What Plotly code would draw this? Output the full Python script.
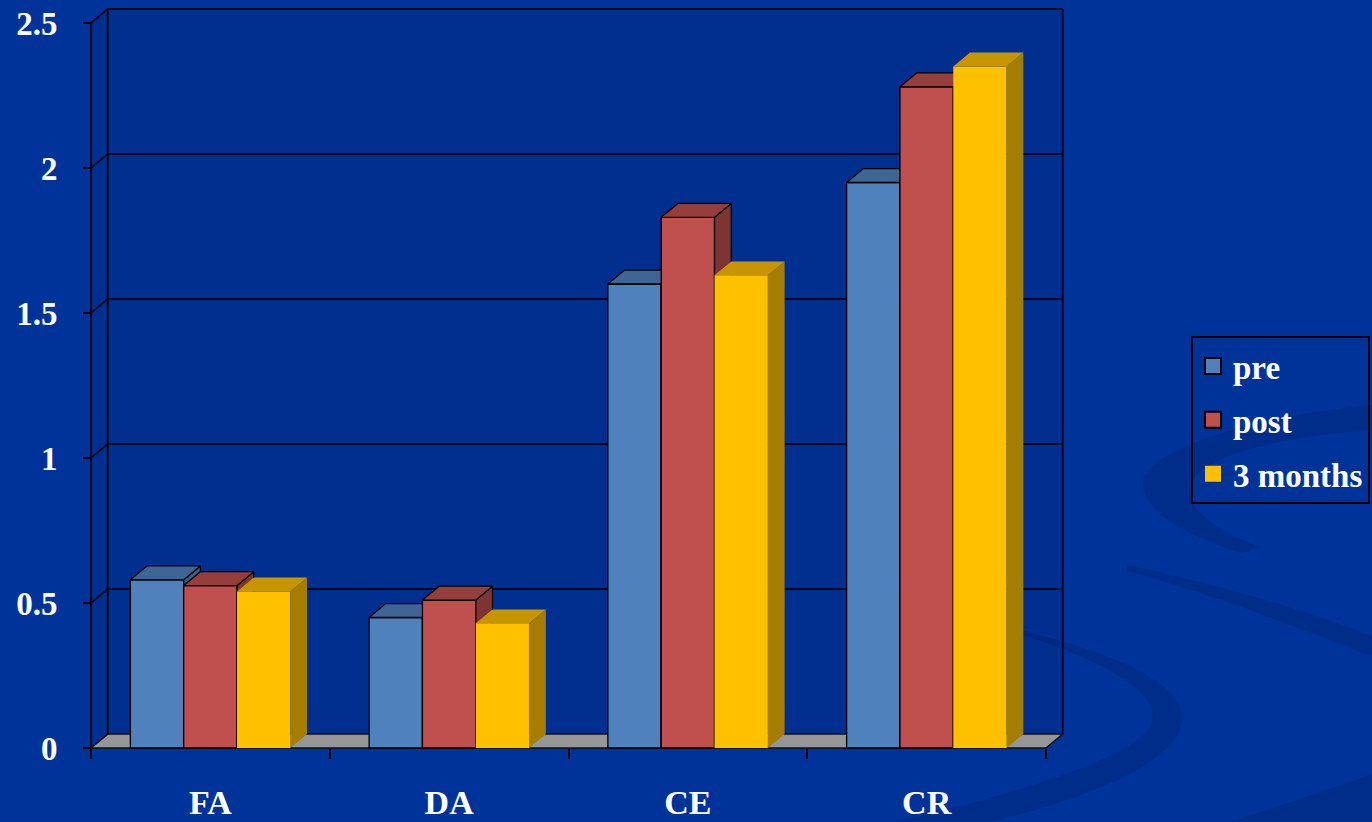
import plotly.graph_objects as go

# ---- data -------------------------------------------------------------
categories = ["FA", "DA", "CE", "CR"]
series_names = ["pre", "post", "3 months"]
pre = [0.58, 0.45, 1.60, 1.95]
post = [0.56, 0.51, 1.83, 2.28]
months3 = [0.54, 0.43, 1.63, 2.35]
y_ticks = [0, 0.5, 1, 1.5, 2, 2.5]

series_values = [pre, post, months3]

# ---- styling ------------------------------------------------------------
front_colors = ["#4F81BD", "#C0504D", "#FFC000"]
top_colors = ["#3F6594", "#963E3B", "#C79500"]
side_colors = ["#3A5E8A", "#7E3432", "#A67D00"]
edge_widths = [1.3, 1.3, 0]
BG = "#003399"
FONT = "Liberation Serif"

BAR_W = 0.2234          # width of one column in category units
DX, DY = 0.07, 0.048    # oblique depth offset (x units, y units)
X_MIN, X_MAX = -0.58796, 3.6424
Y_MIN, Y_MAX = -0.04138, 2.5793
W, H = 1372, 822
ML, MR, MT, MB = 70, 292, 0, 62

n_cat = len(categories)
x_left, x_right = -0.5, n_cat - 0.5
y_top = y_ticks[-1]

fig = go.Figure()

# ---- columns: one overlaid subplot per series so later series sit in front
for k, (name, vals) in enumerate(zip(series_names, series_values)):
    xa = "x" if k == 0 else f"x{k + 1}"
    ya = "y" if k == 0 else f"y{k + 1}"
    offset = (k - 1) * BAR_W
    xs = [i + offset for i in range(n_cat)]
    line = dict(color="black", width=edge_widths[k])

    fig.add_trace(go.Bar(
        x=xs, y=vals, width=BAR_W, name=name,
        marker=dict(color=front_colors[k], line=line),
        xaxis=xa, yaxis=ya, showlegend=False,
        hovertemplate="%{customdata}: %{y}<extra>" + name + "</extra>",
        customdata=categories,
    ))

    side_x, side_y, top_x, top_y = [], [], [], []
    for xc, v in zip(xs, vals):
        x0, x1 = xc - BAR_W / 2, xc + BAR_W / 2
        side_x += [x1, x1 + DX, x1 + DX, x1, x1, None]
        side_y += [0, DY, v + DY, v, 0, None]
        top_x += [x0, x1, x1 + DX, x0 + DX, x0, None]
        top_y += [v, v, v + DY, v + DY, v, None]

    sc_line = dict(color="black", width=edge_widths[k]) if edge_widths[k] else dict(width=0)
    fig.add_trace(go.Scatter(
        x=side_x, y=side_y, mode="lines", fill="toself",
        fillcolor=side_colors[k], line=sc_line,
        xaxis=xa, yaxis=ya, showlegend=False, hoverinfo="skip",
    ))
    fig.add_trace(go.Scatter(
        x=top_x, y=top_y, mode="lines", fill="toself",
        fillcolor=top_colors[k], line=sc_line,
        xaxis=xa, yaxis=ya, showlegend=False, hoverinfo="skip",
    ))

# legend swatches
for k, name in enumerate(series_names):
    fig.add_trace(go.Scatter(
        x=[None], y=[None], mode="markers", name=name, legendgroup=name,
        marker=dict(symbol="square", size=16, color=front_colors[k],
                    line=dict(color="black", width=2 if edge_widths[k] else 0)),
    ))

# ---- chart walls, floor and gridlines (drawn beneath the columns) --------
shapes = []
wall_fill = "rgba(0,0,40,0.08)"
edge = dict(color="#000A1E", width=2)
shapes.append(dict(type="path", xref="x", yref="y", layer="below",
                   path=f"M{x_left + DX},{DY} L{x_right + DX},{DY} L{x_right + DX},{y_top + DY} "
                        f"L{x_left + DX},{y_top + DY} Z",
                   fillcolor=wall_fill, line=dict(width=0)))
shapes.append(dict(type="path", xref="x", yref="y", layer="below",
                   path=f"M{x_left},0 L{x_left + DX},{DY} L{x_left + DX},{y_top + DY} L{x_left},{y_top} Z",
                   fillcolor=wall_fill, line=dict(width=0)))
for t in y_ticks[1:]:
    shapes.append(dict(type="path", xref="x", yref="y", layer="below",
                       path=f"M{x_left},{t} L{x_left + DX},{t + DY} L{x_right + DX},{t + DY}",
                       line=edge))
shapes.append(dict(type="line", xref="x", yref="y", layer="below",
                   x0=x_left, y0=0, x1=x_left, y1=y_top, line=edge))
for xv in (x_left + DX, x_right + DX):
    shapes.append(dict(type="line", xref="x", yref="y", layer="below",
                       x0=xv, y0=DY, x1=xv, y1=y_top + DY, line=edge))
shapes.append(dict(type="path", xref="x", yref="y", layer="below",
                   path=f"M{x_left},0 L{x_right},0 L{x_right + DX},{DY} L{x_left + DX},{DY} Z",
                   fillcolor="#969696", line=dict(color="#101010", width=1.5)))


# ---- decorative background swooshes (paper space, pixel-based helper) ----
def px_path(cmds):
    out = []
    for c in cmds:
        if isinstance(c, str):
            out.append(c)
        else:
            px, py = c
            out.append(f"{(px - ML) / (W - ML - MR):.5f},{(H - MB - py) / (H - MT - MB):.5f}")
    return " ".join(out)


swoosh = "#002C8A"
deco = [
    ["M", (1020, 630), "C", (1100, 650), (1188, 680), (1182, 722), "C", (1176, 765), (1080, 800), (990, 822),
     "L", (893, 822), "C", (990, 800), (1140, 760), (1152, 722), "C", (1160, 690), (1100, 660), (1020, 634), "Z"],
    ["M", (1372, 405), "C", (1260, 415), (1138, 450), (1143, 486), "C", (1147, 515), (1190, 536), (1240, 553),
     "L", (1262, 548), "C", (1215, 530), (1186, 510), (1191, 486), "C", (1196, 456), (1282, 436), (1372, 430), "Z"],
    ["M", (1127, 565), "C", (1200, 580), (1300, 608), (1372, 636), "L", (1372, 656),
     "C", (1300, 628), (1200, 590), (1127, 571), "Z"],
    ["M", (1232, 822), "C", (1290, 802), (1340, 786), (1372, 774), "L", (1372, 822), "Z"],
]
for d in deco:
    shapes.insert(0, dict(type="path", xref="paper", yref="paper", layer="below",
                          path=px_path(d), fillcolor=swoosh, line=dict(width=0)))

# ---- layout -------------------------------------------------------------
overlay_x = dict(range=[X_MIN, X_MAX], visible=False, overlaying="x", fixedrange=True)
overlay_y = dict(range=[Y_MIN, Y_MAX], visible=False, overlaying="y", fixedrange=True)

fig.update_layout(
    width=W, height=H, autosize=False,
    margin=dict(l=ML, r=MR, t=MT, b=MB, pad=0, autoexpand=False),
    paper_bgcolor=BG, plot_bgcolor="rgba(0,0,0,0)",
    barmode="overlay",
    shapes=shapes,
    showlegend=True,
    legend=dict(
        x=(1191 - ML) / (W - ML - MR), y=(H - MB - 336) / (H - MT - MB),
        xanchor="left", yanchor="top",
        bgcolor="rgba(0,0,0,0)", bordercolor="black", borderwidth=2,
        font=dict(family=FONT, size=33, color="white", weight="bold"),
        traceorder="grouped", tracegroupgap=8,
    ),
    xaxis=dict(
        range=[X_MIN, X_MAX], anchor="free",
        position=(H - MB - 748) / (H - MT - MB),
        tickmode="array", tickvals=list(range(n_cat)), ticktext=categories,
        ticks="", showgrid=False, zeroline=False, showline=False, fixedrange=True,
        tickfont=dict(family=FONT, size=34, color="white", weight="bold"),
        ticklabelstandoff=31,
        minor=dict(tickvals=[i - 0.5 for i in range(n_cat + 1)], ticks="outside",
                   ticklen=10, tickwidth=2, tickcolor="black", showgrid=False),
    ),
    yaxis=dict(
        range=[Y_MIN, Y_MAX], anchor="free",
        position=(91 - ML) / (W - ML - MR),
        tickmode="array", tickvals=y_ticks, ticktext=[f"{t:g}" for t in y_ticks],
        ticks="outside", ticklen=8, tickwidth=2, tickcolor="black",
        showgrid=False, zeroline=False, showline=False, fixedrange=True,
        tickfont=dict(family=FONT, size=33, color="white", weight="bold"),
        ticklabelstandoff=19,
    ),
    xaxis2=overlay_x, yaxis2=overlay_y,
    xaxis3=dict(overlay_x), yaxis3=dict(overlay_y),
)
fig.update_layout(yaxis2=dict(anchor="x2"), xaxis2=dict(anchor="y2"),
                  yaxis3=dict(anchor="x3"), xaxis3=dict(anchor="y3"))

fig.write_html("out.html")
